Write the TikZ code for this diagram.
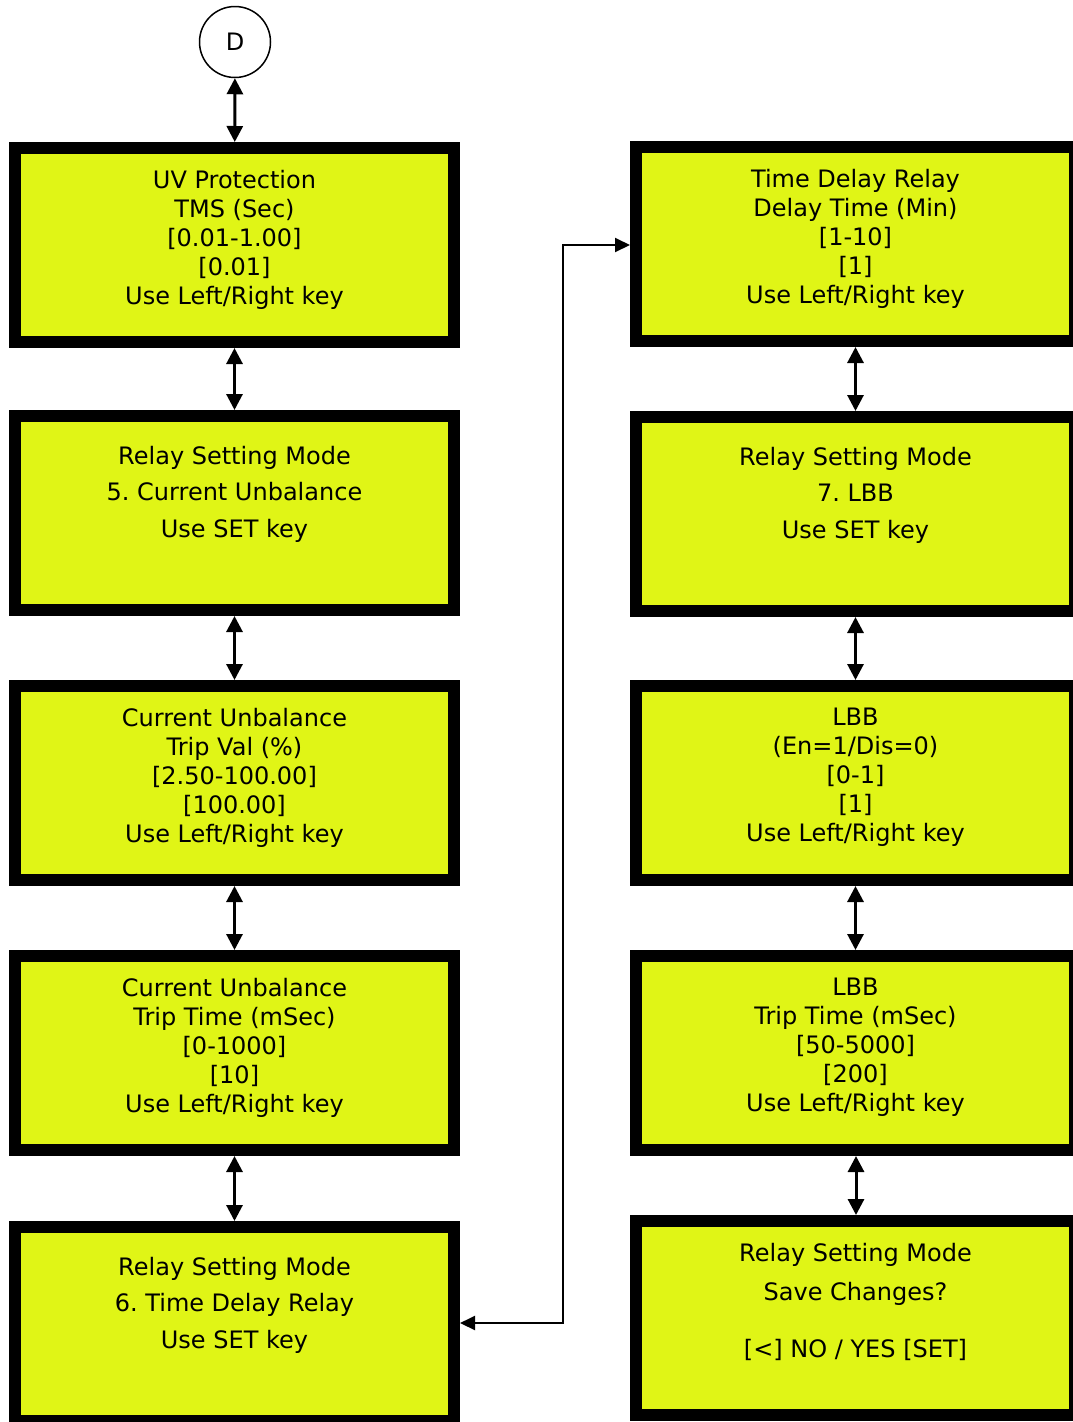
\documentclass[tikz,border=0pt]{standalone}
\usepackage{fontspec}
\setmainfont{DejaVu Sans}
\frenchspacing
\usetikzlibrary{arrows.meta,positioning}
\definecolor{lcdyellow}{RGB}{224,245,22}
\tikzset{
  screen/.style={draw=black,fill=lcdyellow,line width=12pt,minimum width=439pt,minimum height=194pt,inner sep=0pt},
  lines/.style={anchor=north,align=center,inner sep=0pt,font=\fontsize{24}{29}\selectfont},
  menu/.style={anchor=north,align=center,inner sep=0pt,font=\fontsize{24}{36.5}\selectfont},
  dbl/.style={{Triangle[length=16pt,width=16pt]}-{Triangle[length=16pt,width=16pt]},line width=3pt},
  link/.style={{Triangle[length=15pt,width=14pt]}-{Triangle[length=15pt,width=14pt]},line width=2pt}
}
\begin{document}
\begin{tikzpicture}[x=1pt,y=-1pt]
  \useasboundingbox (0,0) rectangle (1073,1422);
  \clip (0,0) rectangle (1073,1422);
  \node[draw,circle,line width=1.5pt,minimum size=71pt,inner sep=0pt,font=\fontsize{24}{29}\selectfont] (D) at (235,42) {D};

  \node[screen] (uvtms) at (234.5,245) {};
  \node[screen] (rsm5) at (234.5,513) {};
  \node[screen] (cutrip) at (234.5,783) {};
  \node[screen] (cutime) at (234.5,1053) {};
  \node[screen] (rsm6) at (234.5,1324) {};
  \node[screen] (tdrtime) at (855.5,244) {};
  \node[screen] (rsm7) at (855.5,514) {};
  \node[screen] (lbben) at (855.5,783) {};
  \node[screen] (lbbtrip) at (855.5,1053) {};
  \node[screen] (save) at (855.5,1318) {};

  \node[lines] (uvtms-txt) at ([yshift=-27.8pt]uvtms.north) {UV Protection\\TMS (Sec)\\{[0.01-1.00]}\\{[0.01]}\\Use Left/Right key};
  \node[menu] (rsm5-txt) at ([yshift=-35.8pt]rsm5.north) {Relay Setting Mode\\5. Current Unbalance\\Use SET key};
  \node[lines] (cutrip-txt) at ([yshift=-27.8pt]cutrip.north) {Current Unbalance\\Trip Val (\%)\\{[2.50-100.00]}\\{[100.00]}\\Use Left/Right key};
  \node[lines] (cutime-txt) at ([yshift=-27.8pt]cutime.north) {Current Unbalance\\Trip Time (mSec)\\{[0-1000]}\\{[10]}\\Use Left/Right key};
  \node[menu] (rsm6-txt) at ([yshift=-35.8pt]rsm6.north) {Relay Setting Mode\\6. Time Delay Relay\\Use SET key};
  \node[lines] (tdrtime-txt) at ([yshift=-27.8pt]tdrtime.north) {Time Delay Relay\\Delay Time (Min)\\{[1-10]}\\{[1]}\\Use Left/Right key};
  \node[menu] (rsm7-txt) at ([yshift=-35.8pt]rsm7.north) {Relay Setting Mode\\7. LBB\\Use SET key};
  \node[lines] (lbben-txt) at ([yshift=-27.8pt]lbben.north) {LBB\\(En=1/Dis=0)\\{[0-1]}\\{[1]}\\Use Left/Right key};
  \node[lines] (lbbtrip-txt) at ([yshift=-27.8pt]lbbtrip.north) {LBB\\Trip Time (mSec)\\{[50-5000]}\\{[200]}\\Use Left/Right key};
  \node[lines,font=\fontsize{24}{39}\selectfont] (save-txt) at ([yshift=-27.8pt]save.north) {Relay Setting Mode\\Save Changes?\\[18pt]{[<] NO / YES [SET]}};

  \draw[dbl] (D) -- (uvtms);
  \draw[dbl] (uvtms) -- (rsm5);
  \draw[dbl] (rsm5) -- (cutrip);
  \draw[dbl] (cutrip) -- (cutime);
  \draw[dbl] (cutime) -- (rsm6);
  \draw[dbl] (tdrtime) -- (rsm7);
  \draw[dbl] (rsm7) -- (lbben);
  \draw[dbl] (lbben) -- (lbbtrip);
  \draw[dbl] ([xshift=0.5pt]lbbtrip.south) -- ([xshift=0.5pt]save.north);

  \coordinate (bus) at (563,0);
  \draw[link] ([yshift=1pt]rsm6.east) -- ([yshift=1pt]rsm6.east -| bus) |- ([yshift=-1pt]tdrtime.west);
\end{tikzpicture}
\end{document}
